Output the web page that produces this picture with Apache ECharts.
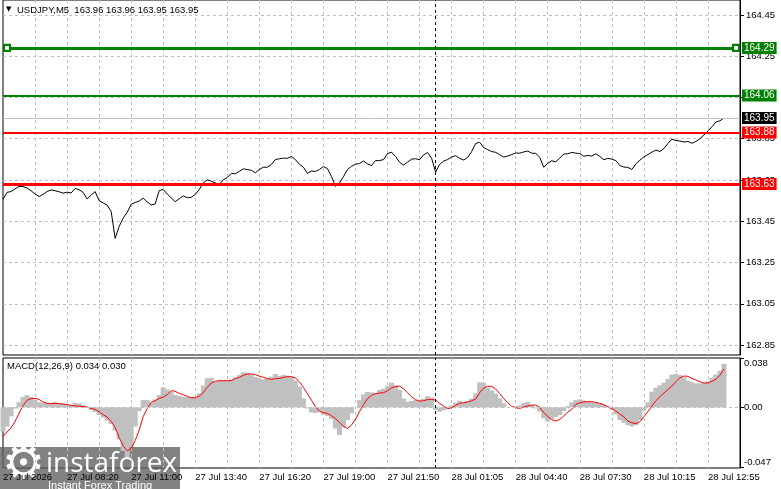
<!DOCTYPE html>
<html>
<head>
<meta charset="utf-8">
<script src="https://cdn.jsdelivr.net/npm/echarts@6/dist/echarts.min.js"></script>
<style>
html,body{margin:0;padding:0;background:#fff;}
#c{width:781px;height:489px;}
</style>
</head>
<body>
<div id="c"></div>
<script>
// ---- data ----
const timeLabels = ['27 Jul 2026','27 Jul 08:20','27 Jul 11:00','27 Jul 13:40','27 Jul 16:20','27 Jul 19:00','27 Jul 21:50','28 Jul 01:05','28 Jul 04:40','28 Jul 07:30','28 Jul 10:15','28 Jul 12:55'];
const priceTicks = [162.85,163.05,163.25,163.45,163.65,163.85,164.05,164.25,164.45];
const macdTicks = [-0.047,0,0.038];
const supportLevels = [163.88,163.63];
const resistanceLevels = [164.29,164.06];
const lastBid = 163.95;
const separatorIndex = 108;
const headerText = 'USDJPY,M5  163.96 163.96 163.95 163.95';
const macdText = 'MACD(12,26,9) 0.034 0.030';

const price = [
163.556,163.590,163.594,163.607,163.619,163.618,163.611,163.598,163.582,163.570,
163.580,163.594,163.602,163.598,163.593,163.586,163.591,163.587,163.609,163.603,
163.590,163.558,163.577,163.594,163.550,163.539,163.528,163.498,163.367,163.425,
163.465,163.493,163.532,163.541,163.548,163.562,163.544,163.529,163.534,163.599,
163.604,163.582,163.563,163.545,163.559,163.573,163.564,163.566,163.580,163.604,
163.636,163.651,163.644,163.636,163.628,163.651,163.662,163.682,163.680,163.692,
163.704,163.701,163.697,163.685,163.701,163.712,163.712,163.725,163.749,163.753,
163.756,163.755,163.764,163.749,163.726,163.712,163.682,163.694,163.691,163.701,
163.715,163.705,163.667,163.619,163.635,163.666,163.701,163.716,163.726,163.730,
163.742,163.728,163.720,163.744,163.744,163.749,163.778,163.785,163.764,163.736,
163.722,163.737,163.751,163.753,163.748,163.772,163.783,163.756,163.688,163.725,
163.742,163.749,163.761,163.768,163.755,163.747,163.759,163.788,163.827,163.833,
163.807,163.797,163.788,163.784,163.773,163.761,163.766,163.773,163.781,163.780,
163.786,163.790,163.780,163.779,163.760,163.712,163.731,163.743,163.738,163.756,
163.776,163.777,163.784,163.780,163.778,163.765,163.769,163.766,163.777,163.764,
163.748,163.755,163.751,163.744,163.720,163.713,163.711,163.701,163.728,163.746,
163.762,163.773,163.785,163.795,163.788,163.802,163.827,163.848,163.841,163.839,
163.834,163.837,163.828,163.837,163.850,163.868,163.888,163.908,163.931,163.937,
163.950];

const macdMain = [
-0.019,-0.015,-0.007,-0.001,0.004,0.008,0.0095,0.008,0.006,0.004,
0.0035,0.003,0.0035,0.004,0.0035,0.0025,0.002,0.0015,0.0035,0.003,
0.0018,0,-0.002,-0.0036,-0.006,-0.008,-0.0104,-0.013,-0.018,-0.025,
-0.034,-0.039,-0.031,-0.015,-0.003,0.0057,0.0057,0.0036,0.0062,0.0096,
0.0156,0.014,0.012,0.0096,0.0088,0.0083,0.008,0.008,0.0083,0.011,
0.017,0.0226,0.0229,0.020,0.0213,0.0213,0.021,0.0218,0.0234,0.0252,
0.0273,0.027,0.0252,0.0237,0.0226,0.0218,0.0226,0.0239,0.026,0.0244,
0.0252,0.0247,0.0239,0.0208,0.0161,0.007,-0.0008,-0.004,-0.0044,-0.0034,
-0.0057,-0.0068,-0.0091,-0.0164,-0.0216,-0.0156,-0.0099,-0.0047,0,0.0057,
0.0101,0.012,0.0117,0.0112,0.0135,0.0146,0.0169,0.0192,0.0172,0.0135,
0.0068,0.0044,0.0049,0.0057,0.006,0.0068,0.0086,0.0078,-0.002,-0.0034,
-0.0023,-0.0008,0.0015,0.0036,0.0052,0.0039,0.0049,0.0068,0.011,0.0195,
0.0192,0.015,0.0132,0.0107,0.007,0.0031,0,0,0.0008,0.0015,
0.0034,0.0042,0.0018,-0.0008,-0.0034,-0.0086,-0.0112,-0.0091,-0.0075,-0.006,
-0.0029,0.001,0.0039,0.0057,0.0062,0.0055,0.0047,0.0039,0.0034,0.0031,
0.0021,0.0005,-0.002,-0.0055,-0.0099,-0.012,-0.0138,-0.0148,-0.0138,-0.0099,
-0.0026,0.0039,0.0122,0.0153,0.0172,0.0192,0.0221,0.0255,0.026,0.0252,
0.0234,0.0208,0.0195,0.0187,0.0187,0.0192,0.0203,0.0231,0.0257,0.0286,
0.034];

const macdSignal = [
-0.0229,-0.0192,-0.016,-0.011,-0.0047,0.0013,0.0055,0.0068,0.007,0.0062,
0.0042,0.0031,0.0029,0.0031,0.0029,0.0026,0.0021,0.0016,0.001,0.001,
0.0005,0.0003,-0.0008,-0.0016,-0.0034,-0.0057,-0.0075,-0.011,-0.0156,-0.0235,
-0.030,-0.034,-0.032,-0.026,-0.0177,-0.0073,-0.001,0.0039,0.0052,0.007,
0.008,0.0099,0.013,0.0125,0.0109,0.0099,0.0086,0.0075,0.0075,0.0088,
0.0114,0.0156,0.019,0.0203,0.0208,0.0208,0.0208,0.0208,0.0224,0.0234,
0.025,0.026,0.026,0.0255,0.0244,0.0234,0.0224,0.0218,0.0224,0.0226,
0.0234,0.0239,0.0239,0.0229,0.020,0.0156,0.0107,0.0057,0.0005,-0.0031,
-0.0042,-0.0047,-0.0065,-0.0088,-0.0117,-0.0148,-0.0164,-0.0138,-0.0094,-0.0034,
0.0021,0.0068,0.0094,0.0107,0.0112,0.0114,0.013,0.0153,0.0161,0.0166,
0.0146,0.0114,0.0083,0.006,0.0049,0.0052,0.006,0.0062,0.0057,0.0031,
0.001,-0.001,-0.0003,0.0016,0.0031,0.0036,0.0042,0.0052,0.0065,0.0114,
0.015,0.0164,0.0164,0.0143,0.0107,0.007,0.0036,0.0008,-0.0003,-0.0008,
0.0003,0.001,0.0018,0.0018,0,-0.0042,-0.007,-0.0096,-0.0107,-0.0094,
-0.0068,-0.0036,-0.0016,0.0023,0.0036,0.0042,0.0044,0.0044,0.0039,0.0031,
0.0021,0.0005,-0.0008,-0.0029,-0.0052,-0.0073,-0.0107,-0.012,-0.0127,-0.0112,
-0.0073,-0.0034,0.001,0.0052,0.0083,0.0112,0.014,0.0166,0.020,0.0231,
0.0244,0.0242,0.0226,0.0213,0.020,0.019,0.019,0.0203,0.022,0.025,
0.030];

// ---- chart ----
const FONT = "'Liberation Sans', Arial, sans-serif";
const FS = 9.5;
const N = 185;
const cats = Array.from({length: N}, (_, i) => (i % 16 === 0 && timeLabels[i / 16]) ? timeLabels[i / 16] : '');
const GRID_LINE = {show: true, lineStyle: {color: '#c0c0c0', type: [3, 3], width: 1}};
const vInterval = (i) => i > 0 && i % 8 === 0;

const levelLine = (v, lineColor, boxColor, width) => ({
  yAxis: v,
  lineStyle: {color: lineColor, width: width, type: 'solid'},
  label: {
    show: true, position: 'end', distance: 2,
    formatter: (p) => Number(p.value).toFixed(2),
    color: '#fff', backgroundColor: boxColor, padding: [1, 2, 0, 2],
    fontSize: 10, fontFamily: FONT, lineHeight: 11
  }
});

const chart = echarts.init(document.getElementById('c'));
chart.setOption({
  animation: false,
  backgroundColor: '#fff',
  grid: [
    {left: 3, right: 41, top: -1, height: 356, show: true, borderColor: '#000', borderWidth: 1, containLabel: false},
    {left: 3, right: 41, top: 358, height: 110, show: true, borderColor: '#000', borderWidth: 1, containLabel: false}
  ],
  xAxis: [
    {type: 'category', gridIndex: 0, data: cats, boundaryGap: false,
     axisLine: {show: false}, axisTick: {show: false}, axisLabel: {show: false},
     splitLine: Object.assign({interval: vInterval}, GRID_LINE)},
    {type: 'category', gridIndex: 1, data: cats, boundaryGap: false,
     axisLine: {show: false}, axisTick: {show: false},
     axisLabel: {show: true, interval: (i) => i % 16 === 0, align: 'left', margin: 4,
                 color: '#000', fontSize: FS, fontFamily: FONT},
     splitLine: Object.assign({interval: vInterval}, GRID_LINE)}
  ],
  yAxis: [
    {type: 'value', gridIndex: 0, position: 'right', min: 162.8017, max: 164.5225,
     axisLine: {show: true, lineStyle: {color: '#000', width: 1}},
     axisTick: {show: true, customValues: priceTicks, length: 4, lineStyle: {color: '#000'}},
     axisLabel: {customValues: priceTicks, formatter: (v) => v.toFixed(2), margin: 6,
                 color: '#000', fontSize: FS, fontFamily: FONT},
     splitLine: GRID_LINE},
    {type: 'value', gridIndex: 1, position: 'right', min: -0.0473, max: 0.0385,
     axisLine: {show: true, lineStyle: {color: '#000', width: 1}},
     axisTick: {show: true, customValues: macdTicks, length: 4, lineStyle: {color: '#000'}},
     axisLabel: {customValues: macdTicks, formatter: (v) => v === 0 ? '0.00' : v.toFixed(3), margin: 4,
                 color: '#000', fontSize: FS, fontFamily: FONT,
                 verticalAlignMaxLabel: 'top', verticalAlignMinLabel: 'bottom'},
     splitLine: {show: false}}
  ],
  series: [
    {type: 'line', name: 'USDJPY', xAxisIndex: 0, yAxisIndex: 0, data: price,
     symbol: 'none', lineStyle: {color: '#000', width: 1}, z: 3,
     markLine: {
       silent: true, symbol: ['none', 'none'], animation: false,
       data: [
         levelLine(lastBid, '#c0c0c0', '#000', 1),
         levelLine(resistanceLevels[0], '#008000', '#008000', 3),
         levelLine(resistanceLevels[1], '#008000', '#008000', 2),
         levelLine(supportLevels[0], '#ff0000', '#ff0000', 2),
         levelLine(supportLevels[1], '#ff0000', '#ff0000', 3),
         {xAxis: separatorIndex, lineStyle: {color: '#000', width: 1, type: [3, 3]}, label: {show: false}}
       ]
     },
     markPoint: {
       silent: true, animation: false,
       symbol: 'rect', symbolSize: 6,
       itemStyle: {color: '#fff', borderColor: '#008000', borderWidth: 2.2},
       label: {show: false},
       data: [{coord: [1, resistanceLevels[0]]}, {coord: [183, resistanceLevels[0]]}]
     }
    },
    {type: 'bar', name: 'MACD', xAxisIndex: 1, yAxisIndex: 1, data: macdMain,
     barWidth: 5, itemStyle: {color: '#c0c0c0'}, z: 2,
     markLine: {
       silent: true, symbol: ['none', 'none'], animation: false, label: {show: false},
       data: [
         {yAxis: 0, lineStyle: {color: '#c0c0c0', width: 1, type: [3, 3]}},
         {xAxis: separatorIndex, lineStyle: {color: '#000', width: 1, type: [3, 3]}}
       ]
     }},
    {type: 'line', name: 'Signal', xAxisIndex: 1, yAxisIndex: 1, data: macdSignal,
     symbol: 'none', lineStyle: {color: '#ff0000', width: 1}, z: 4}
  ],
  graphic: [
    {type: 'text', left: 6, top: 6, z: 50, style: {text: '▼', fontSize: 7, fill: '#000', fontFamily: "'DejaVu Sans'"}},
    {type: 'text', left: 17, top: 5, z: 50, style: {text: headerText, fontSize: FS, fill: '#000', fontFamily: FONT}},
    {type: 'text', left: 7, top: 361, z: 50, style: {text: macdText, fontSize: FS, fill: '#000', fontFamily: FONT}},
    {type: 'group', left: 0, top: 443, z: 100, children: [
      {type: 'rect', shape: {x: 0, y: 0, width: 180, height: 46}, style: {fill: 'rgba(95,95,95,0.78)'}},
      {type: 'text', x: 2, y: -4, style: {text: '⚙', fontSize: 48, fill: '#fff', fontFamily: "'DejaVu Sans'"}},
      {type: 'text', x: 46, y: 3, style: {text: 'instaforex', fontSize: 28, fill: '#fff', fontFamily: "'Open Sans', 'Liberation Sans', sans-serif"}},
      {type: 'text', x: 48, y: 33, style: {text: 'Instant Forex Trading', fontSize: 11, fill: '#fff', fontFamily: FONT}}
    ]}
  ]
});
</script>
</body>
</html>
